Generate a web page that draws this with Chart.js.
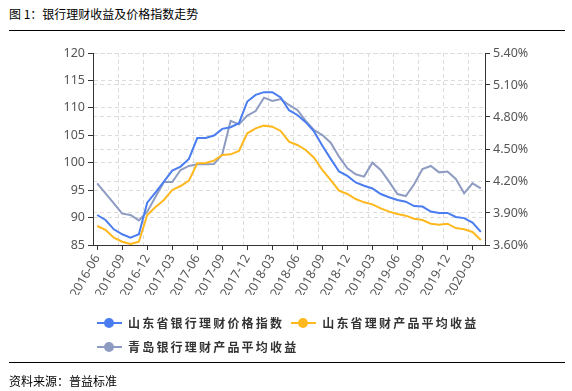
<!DOCTYPE html>
<html>
<head>
<meta charset="utf-8">
<script src="https://cdn.jsdelivr.net/npm/chart.js@4"></script>
<style>
  html, body { margin: 0; padding: 0; background: #fff; }
  body { width: 572px; height: 391px; position: relative; overflow: hidden;
         font-family: "Noto Sans CJK SC", "Noto Sans", sans-serif; }
  #wrap { position: absolute; left: 0; top: 0; width: 572px; height: 391px; }
  .title { position: absolute; left: 9px; top: 5px; font-size: 12px; color: #000; line-height: 18px; }
  .rule { position: absolute; left: 9px; width: 556px; height: 1px; background: #000; }
  .source { position: absolute; left: 9px; top: 372px; font-size: 12px; color: #000; line-height: 18px; }
  .legend { position: absolute; left: 97px; top: 312px; font-size: 12px; font-weight: bold; color: #333; }
  .lg-row { height: 24px; white-space: nowrap; }
  .lg-item { display: inline-block; margin-right: 7px; vertical-align: top; }
  .lg-mark { display: inline-block; position: relative; width: 25px; height: 18px; vertical-align: middle; }
  .lg-mark i { position: absolute; left: 0; top: 8px; width: 25px; height: 2px; }
  .lg-mark b { position: absolute; left: 7px; top: 4px; width: 10px; height: 10px; border-radius: 50%; }
  .lg-text { display: inline-block; margin-left: 6px; letter-spacing: 2.2px; vertical-align: middle; line-height: 18px; }
</style>
</head>
<body>
<div class="title">图 1：银行理财收益及价格指数走势</div>
<div class="rule" style="top:30px"></div>
<div id="wrap"><canvas id="c" width="572" height="391"></canvas></div>
<div class="legend" id="legend"></div>
<div class="rule" style="top:362px"></div>
<div class="source">资料来源：普益标准</div>

<script>
/* ── 数据 ─────────────────────────────────────── */
var months = [
  '2016-06','2016-07','2016-08','2016-09','2016-10','2016-11','2016-12',
  '2017-01','2017-02','2017-03','2017-04','2017-05','2017-06','2017-07','2017-08','2017-09','2017-10','2017-11','2017-12',
  '2018-01','2018-02','2018-03','2018-04','2018-05','2018-06','2018-07','2018-08','2018-09','2018-10','2018-11','2018-12',
  '2019-01','2019-02','2019-03','2019-04','2019-05','2019-06','2019-07','2019-08','2019-09','2019-10','2019-11','2019-12',
  '2020-01','2020-02','2020-03','2020-04'
];

var sdIndex = [
  90.47, 89.56, 87.86, 86.95, 86.34, 86.95, 92.72,
  94.6, 96.56, 98.56, 99.3, 100.7, 104.5, 104.5, 104.95, 106.17, 106.47, 107.2, 111.16,
  112.37, 112.86, 112.86, 111.9, 109.57, 108.7, 107.4, 105.7, 103.1, 100.7, 98.4, 97.6,
  96.4, 95.8, 95.3, 94.3, 93.7, 93.2, 92.9, 92.1, 92.0, 91.1, 90.84, 90.84,
  90.1, 89.9, 89.1, 87.4
];

var sdYield = [
  3.778, 3.741, 3.669, 3.631, 3.609, 3.631, 3.881,
  3.956, 4.022, 4.116, 4.153, 4.203, 4.366, 4.369, 4.391, 4.444, 4.45, 4.481, 4.647,
  4.694, 4.719, 4.709, 4.669, 4.569, 4.538, 4.491, 4.419, 4.303, 4.209, 4.109, 4.078,
  4.031, 4.0, 3.981, 3.944, 3.913, 3.891, 3.875, 3.847, 3.834, 3.8, 3.791, 3.8,
  3.759, 3.747, 3.722, 3.647
];

var qdYield = [
  4.178, 4.084, 3.991, 3.894, 3.881, 3.831, 3.913,
  4.053, 4.191, 4.191, 4.303, 4.341, 4.356, 4.356, 4.359, 4.45, 4.763, 4.731, 4.813,
  4.856, 4.981, 4.95, 4.969, 4.913, 4.866, 4.763, 4.678, 4.631, 4.559, 4.428, 4.319,
  4.263, 4.241, 4.372, 4.303, 4.194, 4.078, 4.059, 4.169, 4.313, 4.341, 4.281, 4.288,
  4.219, 4.084, 4.178, 4.131
];

var seriesNames  = ['山东省银行理财价格指数', '山东省理财产品平均收益', '青岛银行理财产品平均收益'];
var seriesColors = ['#4A7DF0', '#FFB81E', '#8E9CC2'];

var GRID = '#dcdcdc';
var AXIS = '#333333';
var TICK_FONT = { family: '"Noto Sans", sans-serif', size: 12.5 };

/* ── 竖向虚线网格：每季度画在类目边界 ─────────── */
var vGridPlugin = {
  id: 'vGrid',
  beforeDatasetsDraw: function(chart) {
    var x = chart.scales.x, area = chart.chartArea, ctx = chart.ctx;
    var half = (x.getPixelForValue(1) - x.getPixelForValue(0)) / 2;
    ctx.save();
    ctx.strokeStyle = GRID;
    ctx.lineWidth = 1;
    ctx.setLineDash([4, 3]);
    for (var i = 3; i < months.length; i += 3) {
      var px = Math.round(x.getPixelForValue(i) - half) + 0.5;
      ctx.beginPath();
      ctx.moveTo(px, area.top);
      ctx.lineTo(px, area.bottom);
      ctx.stroke();
    }
    ctx.restore();
  }
};

/* ── 图表 ─────────────────────────────────────── */
var chart = new Chart(document.getElementById('c'), {
  type: 'line',
  data: {
    labels: months,
    datasets: [
      { label: seriesNames[0], data: sdIndex, yAxisID: 'y',  borderColor: seriesColors[0], backgroundColor: seriesColors[0] },
      { label: seriesNames[1], data: sdYield, yAxisID: 'y1', borderColor: seriesColors[1], backgroundColor: seriesColors[1] },
      { label: seriesNames[2], data: qdYield, yAxisID: 'y1', borderColor: seriesColors[2], backgroundColor: seriesColors[2] }
    ]
  },
  options: {
    responsive: false,
    animation: false,
    layout: { padding: { top: 53, bottom: 96, left: 0, right: 0 } },
    elements: {
      line:  { borderWidth: 2, tension: 0 },
      point: { radius: 0, hoverRadius: 0 }
    },
    plugins: { legend: { display: false }, tooltip: { enabled: false } },
    scales: {
      x: {
        type: 'category',
        offset: true,
        afterBuildTicks: function(s) {
          s.ticks = s.ticks.filter(function(t, i) { return i % 3 === 0; });
        },
        afterFit: function(s) { s.height = 50; },
        grid: { drawOnChartArea: false, drawTicks: true, tickLength: 5, tickColor: AXIS, offset: false },
        border: { display: true, color: AXIS, width: 1 },
        ticks: { autoSkip: false, minRotation: 60, maxRotation: 60, padding: 2, color: '#555', font: TICK_FONT }
      },
      y: {
        position: 'left',
        min: 85, max: 120,
        afterFit: function(s) { s.width = 93; },
        grid: { color: GRID, tickColor: AXIS, tickLength: 5, drawTicks: true },
        border: { display: true, color: AXIS, width: 1, dash: [4, 3] },
        ticks: { stepSize: 5, padding: 3, color: '#555', font: TICK_FONT }
      },
      y1: {
        position: 'right',
        min: 3.6, max: 5.4,
        afterFit: function(s) { s.width = 87; },
        grid: { color: GRID, tickColor: AXIS, tickLength: 5, drawTicks: true },
        border: { display: true, color: AXIS, width: 1, dash: [4, 3] },
        ticks: {
          stepSize: 0.3, padding: 3, color: '#555', font: TICK_FONT,
          callback: function(v) { return v.toFixed(2) + '%'; }
        }
      }
    }
  },
  plugins: [vGridPlugin]
});

/* ── 图例（两行，左对齐） ─────────────────────── */
var rows = [[0, 1], [2]];
var html = '';
rows.forEach(function(r) {
  html += '<div class="lg-row">';
  r.forEach(function(k) {
    html += '<span class="lg-item"><span class="lg-mark"><i style="background:' + seriesColors[k] +
            '"></i><b style="background:' + seriesColors[k] + '"></b></span><span class="lg-text">' +
            seriesNames[k] + '</span></span>';
  });
  html += '</div>';
});
document.getElementById('legend').innerHTML = html;
</script>
</body>
</html>
